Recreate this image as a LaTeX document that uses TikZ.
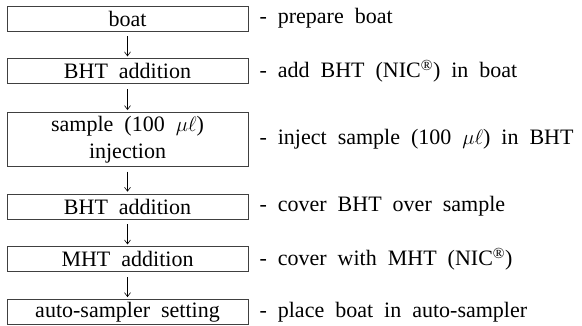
\documentclass[tikz,border=0pt]{standalone}
\usepackage{fontspec}
\setmainfont{Liberation Serif}[WordSpace=2]
\usetikzlibrary{arrows.meta, positioning}

\begin{document}
\begin{tikzpicture}[
    node distance=27pt,
    stepbox/.style={rectangle, draw=black!75, line width=0.7pt, minimum width=241pt, minimum height=25pt, inner sep=0pt, align=center, font=\fontsize{22}{27}\selectfont},
    note/.style={inner sep=0pt, font=\fontsize{22}{27}\selectfont},
    arrow/.style={-{Straight Barb[length=4pt,width=6pt]}, line width=0.6pt, shorten <=5pt, shorten >=2pt}
]
    \useasboundingbox (0,0) rectangle (582pt,-326pt);

    % Steps
    \node[stepbox] (boat) at (127.5pt,-18.5pt) {boat};
    \node[stepbox, below=of boat] (bht) {BHT addition};
    \node[stepbox, minimum height=54pt, below=28pt of bht] (inject) {sample (100 $\mu\ell$)\\injection};
    \node[stepbox, below=of inject] (cover) {BHT addition};
    \node[stepbox, below=of cover] (mht) {MHT addition};
    \node[stepbox, below=of mht] (auto) {auto-sampler setting};

    % Notes
    \node[note, right=11pt of boat] (nboat) {- prepare boat};
    \node[note, right=11pt of bht] (nbht) {- add BHT (NIC\textsuperscript{®}) in boat};
    \node[note, right=11pt of inject] (ninject) {- inject sample (100 $\mu\ell$) in BHT};
    \node[note, right=11pt of cover] (ncover) {- cover BHT over sample};
    \node[note, right=11pt of mht] (nmht) {- cover with MHT (NIC\textsuperscript{®})};
    \node[note, right=11pt of auto] (nauto) {- place boat in auto-sampler};

    % Arrows
    \draw[arrow] (boat) -- (bht);
    \draw[arrow] (bht) -- (inject);
    \draw[arrow] (inject) -- (cover);
    \draw[arrow] (cover) -- (mht);
    \draw[arrow] (mht) -- (auto);

\end{tikzpicture}
\end{document}
